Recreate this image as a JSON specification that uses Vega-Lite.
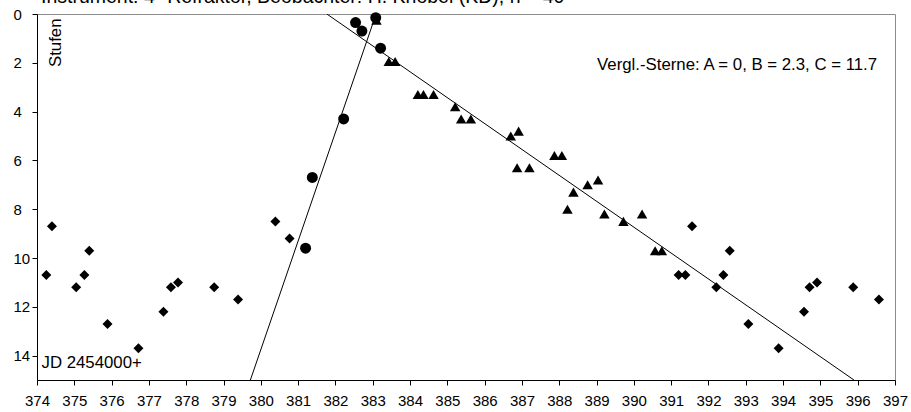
{
  "$schema": "https://vega.github.io/schema/vega-lite/v6.json",
  "autosize": {"type": "none"},
  "width": 858,
  "height": 366,
  "padding": {"left": 37, "top": 14, "right": 16, "bottom": 32},
  "background": "white",
  "title": {
    "text": "Instrument: 4\" Refraktor, Beobachter: H. Knobel (KD), n = 40",
    "anchor": "start",
    "frame": "group",
    "offset": -15,
    "baseline": "alphabetic",
    "dx": 4,
    "font": "Liberation Sans",
    "fontSize": 19.5,
    "fontWeight": "normal",
    "color": "black"
  },
  "config": {
    "view": {"stroke": "#8c8c8c", "strokeWidth": 1},
    "font": "Liberation Sans"
  },
  "datasets": {
    "points": [
      {"jd": 374.25, "stufe": 10.7, "typ": "ruhe"},
      {"jd": 374.4, "stufe": 8.7, "typ": "ruhe"},
      {"jd": 375.05, "stufe": 11.2, "typ": "ruhe"},
      {"jd": 375.27, "stufe": 10.7, "typ": "ruhe"},
      {"jd": 375.4, "stufe": 9.7, "typ": "ruhe"},
      {"jd": 375.89, "stufe": 12.7, "typ": "ruhe"},
      {"jd": 376.72, "stufe": 13.7, "typ": "ruhe"},
      {"jd": 377.39, "stufe": 12.2, "typ": "ruhe"},
      {"jd": 377.59, "stufe": 11.2, "typ": "ruhe"},
      {"jd": 377.78, "stufe": 11.0, "typ": "ruhe"},
      {"jd": 378.75, "stufe": 11.2, "typ": "ruhe"},
      {"jd": 379.39, "stufe": 11.7, "typ": "ruhe"},
      {"jd": 380.39, "stufe": 8.5, "typ": "ruhe"},
      {"jd": 380.77, "stufe": 9.2, "typ": "ruhe"},
      {"jd": 391.2, "stufe": 10.7, "typ": "ruhe"},
      {"jd": 391.38, "stufe": 10.7, "typ": "ruhe"},
      {"jd": 391.56, "stufe": 8.7, "typ": "ruhe"},
      {"jd": 392.21, "stufe": 11.2, "typ": "ruhe"},
      {"jd": 392.4, "stufe": 10.7, "typ": "ruhe"},
      {"jd": 392.57, "stufe": 9.7, "typ": "ruhe"},
      {"jd": 393.07, "stufe": 12.7, "typ": "ruhe"},
      {"jd": 393.88, "stufe": 13.7, "typ": "ruhe"},
      {"jd": 394.56, "stufe": 12.2, "typ": "ruhe"},
      {"jd": 394.71, "stufe": 11.2, "typ": "ruhe"},
      {"jd": 394.91, "stufe": 11.0, "typ": "ruhe"},
      {"jd": 395.88, "stufe": 11.2, "typ": "ruhe"},
      {"jd": 396.57, "stufe": 11.7, "typ": "ruhe"},
      {"jd": 383.1, "stufe": 0.25, "typ": "abstieg"},
      {"jd": 383.43, "stufe": 1.95, "typ": "abstieg"},
      {"jd": 383.6, "stufe": 1.95, "typ": "abstieg"},
      {"jd": 384.21, "stufe": 3.3, "typ": "abstieg"},
      {"jd": 384.36, "stufe": 3.3, "typ": "abstieg"},
      {"jd": 384.63, "stufe": 3.3, "typ": "abstieg"},
      {"jd": 385.21, "stufe": 3.8, "typ": "abstieg"},
      {"jd": 385.37, "stufe": 4.3, "typ": "abstieg"},
      {"jd": 385.63, "stufe": 4.3, "typ": "abstieg"},
      {"jd": 386.7, "stufe": 5.0, "typ": "abstieg"},
      {"jd": 386.91, "stufe": 4.8, "typ": "abstieg"},
      {"jd": 386.87, "stufe": 6.3, "typ": "abstieg"},
      {"jd": 387.2, "stufe": 6.3, "typ": "abstieg"},
      {"jd": 387.87, "stufe": 5.8, "typ": "abstieg"},
      {"jd": 388.07, "stufe": 5.8, "typ": "abstieg"},
      {"jd": 388.22, "stufe": 8.0, "typ": "abstieg"},
      {"jd": 388.38, "stufe": 7.3, "typ": "abstieg"},
      {"jd": 388.76, "stufe": 7.0, "typ": "abstieg"},
      {"jd": 389.04, "stufe": 6.8, "typ": "abstieg"},
      {"jd": 389.21, "stufe": 8.2, "typ": "abstieg"},
      {"jd": 389.72, "stufe": 8.5, "typ": "abstieg"},
      {"jd": 390.22, "stufe": 8.2, "typ": "abstieg"},
      {"jd": 390.57, "stufe": 9.7, "typ": "abstieg"},
      {"jd": 390.75, "stufe": 9.7, "typ": "abstieg"},
      {"jd": 381.2, "stufe": 9.6, "typ": "anstieg"},
      {"jd": 381.38, "stufe": 6.7, "typ": "anstieg"},
      {"jd": 382.22, "stufe": 4.3, "typ": "anstieg"},
      {"jd": 382.54, "stufe": 0.35, "typ": "anstieg"},
      {"jd": 382.71, "stufe": 0.7, "typ": "anstieg"},
      {"jd": 383.08, "stufe": 0.15, "typ": "anstieg"},
      {"jd": 383.21, "stufe": 1.4, "typ": "anstieg"}
    ],
    "trends": [
      {"jd": 379.72, "stufe": 15, "linie": "Anstieg"},
      {"jd": 383.09, "stufe": 0, "linie": "Anstieg"},
      {"jd": 381.77, "stufe": 0, "linie": "Abstieg"},
      {"jd": 395.9, "stufe": 15, "linie": "Abstieg"}
    ],
    "notes": [
      {"jd": 396.52, "stufe": 2.09, "text": "Vergl.-Sterne: A = 0, B = 2.3, C = 11.7"}
    ]
  },
  "encoding": {
    "x": {
      "field": "jd",
      "type": "quantitative",
      "scale": {"domain": [374, 397], "nice": false, "zero": false},
      "axis": {
        "title": "JD 2454000+",
        "titleX": 4,
        "titleY": -18,
        "titleAlign": "left",
        "titleBaseline": "middle",
        "titleFont": "Liberation Sans",
        "titleFontSize": 16.8,
        "titleFontWeight": "normal",
        "titleColor": "black",
        "values": [374,375,376,377,378,379,380,381,382,383,384,385,386,387,388,389,390,391,392,393,394,395,396,397],
        "format": "d",
        "grid": false,
        "domainColor": "black",
        "tickColor": "black",
        "tickSize": 5,
        "labelPadding": 8,
        "labelFont": "Liberation Sans",
        "labelFontSize": 15,
        "labelColor": "black",
        "labelFlush": false,
        "labelOverlap": false
      }
    },
    "y": {
      "field": "stufe",
      "type": "quantitative",
      "scale": {"domain": [0, 15], "reverse": true, "nice": false, "zero": false},
      "axis": {
        "title": "Stufen",
        "titleX": 18,
        "titleY": 4,
        "titleAngle": 270,
        "titleAlign": "right",
        "titleBaseline": "middle",
        "titleFont": "Liberation Sans",
        "titleFontSize": 16.8,
        "titleFontWeight": "normal",
        "titleColor": "black",
        "values": [0, 2, 4, 6, 8, 10, 12, 14],
        "grid": false,
        "domainColor": "black",
        "tickColor": "black",
        "tickSize": 5,
        "labelPadding": 19,
        "labelAlign": "left",
        "labelFont": "Liberation Sans",
        "labelFontSize": 15,
        "labelColor": "black",
        "labelFlush": false,
        "labelOverlap": false
      }
    }
  },
  "layer": [
    {
      "data": {"name": "trends"},
      "mark": {"type": "line", "color": "black", "strokeWidth": 1, "clip": true},
      "encoding": {"detail": {"field": "linie"}}
    },
    {
      "data": {"name": "points"},
      "mark": {"type": "point", "filled": true, "color": "black", "opacity": 1},
      "encoding": {
        "shape": {
          "field": "typ",
          "type": "nominal",
          "scale": {"domain": ["ruhe", "abstieg", "anstieg"], "range": ["diamond", "triangle-up", "circle"]},
          "legend": null
        },
        "size": {
          "field": "typ",
          "type": "nominal",
          "scale": {"domain": ["ruhe", "abstieg", "anstieg"], "range": [100, 120, 80]},
          "legend": null
        }
      }
    },
    {
      "data": {"name": "notes"},
      "mark": {"type": "text", "align": "right", "baseline": "middle", "font": "Liberation Sans", "fontSize": 16.8, "color": "black"},
      "encoding": {"text": {"field": "text"}}
    }
  ]
}
